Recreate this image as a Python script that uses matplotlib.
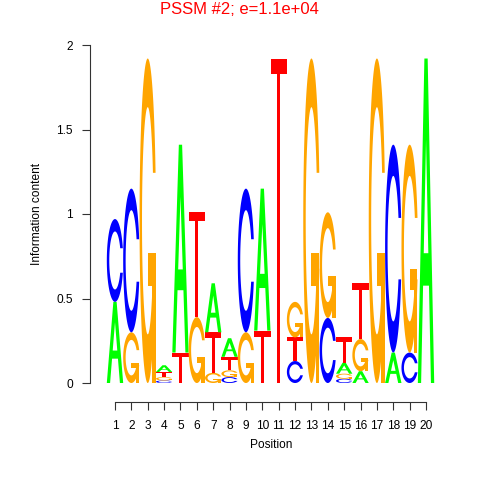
import numpy as np
import matplotlib
matplotlib.use("Agg")
import matplotlib.pyplot as plt
from matplotlib.patches import Polygon

plt.rcParams['font.family'] = ['Liberation Sans', 'DejaVu Sans']

title = "PSSM #2; e=1.1e+04"
positions = list(range(1, 21))
# bits per base at each position
A = [0.48, 0, 0, 0.04, 1.23, 0, 0.29, 0.11, 0, 0.84, 0, 0, 0, 0, 0.065, 0.07, 0, 0.18, 0, 1.92]
C = [0.49, 0.85, 0, 0.015, 0, 0, 0, 0.035, 0.85, 0, 0, 0.13, 0, 0.385, 0.025, 0, 0, 1.23, 0.18, 0]
G = [0, 0.30, 1.92, 0.02, 0, 0.39, 0.06, 0.04, 0.30, 0, 0, 0.21, 1.92, 0.625, 0.03, 0.19, 1.92, 0, 1.23, 0]
T = [0, 0, 0, 0.03, 0.18, 0.62, 0.24, 0.08, 0, 0.31, 1.92, 0.14, 0, 0, 0.15, 0.33, 0, 0, 0, 0]

cols = {'A': '#00FF00', 'C': '#0000FF', 'G': '#FFA500', 'T': '#FF0000'}


def c_shape():
    a1 = np.linspace(0.3 + np.pi / 2, np.pi, 100)
    a2 = np.linspace(np.pi, 1.5 * np.pi, 100)
    xl = np.r_[0.5 + 0.5 * np.sin(a1), 0.5 + 0.5 * np.sin(a2)]
    yl = np.r_[0.5 + 0.5 * np.cos(a1), 0.5 + 0.5 * np.cos(a2)]
    x = np.r_[xl, xl[::-1]]
    y = np.r_[yl, 1 - yl[::-1]]
    ymax = (0.5 + 0.5 * np.cos(a1)).max()
    xi1 = 0.5 + 0.35 * np.sin(a1)
    yi1 = 0.5 + 0.35 * np.cos(a1)
    keep = yi1 <= ymax
    xi1, yi1 = xi1[keep], yi1[keep]
    yi1[0] = ymax
    xi = np.r_[xi1, 0.5 + 0.35 * np.sin(a2)]
    yi = np.r_[yi1, 0.5 + 0.35 * np.cos(a2)]
    x1 = np.r_[xi, xi[::-1]]
    y1 = np.r_[yi, 1 - yi[::-1]]
    return np.c_[np.r_[x, x1[::-1]], np.r_[y, y1[::-1]]]


def letter(ch, h):
    # unit-box polygons (x, y in 0..1) with fill colours
    if ch == 'A':
        outer = [(0, 0), (0.4, 1), (0.6, 1), (1, 0), (0.8, 0), (0.68, 0.3), (0.32, 0.3), (0.2, 0)]
        hole = [(0.36, 0.4), (0.5, 0.75), (0.64, 0.4)]
        return [(np.array(outer), cols['A']), (np.array(hole), 'white')]
    if ch == 'T':
        b = min(0.2, 0.065 / np.sqrt(h))
        pts = [(0, 1), (1, 1), (1, 1 - b), (0.6, 1 - b), (0.6, 0), (0.4, 0), (0.4, 1 - b), (0, 1 - b)]
        return [(np.array(pts), cols['T'])]
    if ch == 'C':
        return [(c_shape(), cols['C'])]
    r1 = 0.5 + 0.5 * np.sin(0.3 + np.pi / 2)
    bar = [(r1, 0.4), (0.5, 0.4), (0.5, 0.3), (r1 - 0.2, 0.3), (r1 - 0.2, 0), (r1, 0)]
    return [(c_shape(), cols['G']), (np.array(bar), cols['G'])]


fig = plt.figure(figsize=(4.8, 4.8), dpi=100)
ax = fig.add_axes([90 / 480, 97 / 480, 350 / 480, 338 / 480])
ax.set_xlim(1 - 25 / 16.37, 1 + 325 / 16.37)
ax.set_ylim(0, 2)

for i, p in enumerate(positions):
    stack = sorted([('A', A[i]), ('C', C[i]), ('G', G[i]), ('T', T[i])], key=lambda s: s[1])
    base = 0
    for ch, h in stack:
        if h <= 0:
            continue
        for pts, fc in letter(ch, h):
            xy = np.c_[p - 0.5 + pts[:, 0], base + h * pts[:, 1]]
            ax.add_patch(Polygon(xy, closed=True, facecolor=fc, edgecolor='none'))
        base += h

for s in ['top', 'right']:
    ax.spines[s].set_visible(False)
ax.spines['left'].set_bounds(0, 2)
ax.spines['bottom'].set_bounds(1, 20)
ax.spines['bottom'].set_position(('outward', 13.7))
for s in ['left', 'bottom']:
    ax.spines[s].set_linewidth(0.8)
    ax.spines[s].set_color('#333333')

ax.set_xticks(positions)
ax.set_xticklabels([str(p) for p in positions])
ax.set_yticks([0, 0.5, 1, 1.5, 2])
ax.set_yticklabels(['0', '0.5', '1', '1.5', '2'])
ax.tick_params(axis='both', labelsize=8.6, length=5.5, width=0.8, color='#333333')
ax.tick_params(axis='x', pad=7.5)
ax.tick_params(axis='y', pad=7)

fig.text(239 / 480, 1 - 9 / 480, title, color='red', fontsize=12, ha='center', va='center')
fig.text(37 / 480, 1 - 214 / 480, 'Information content', rotation=90, fontsize=8.6, ha='center', va='center')
fig.text(271 / 480, 1 - 445 / 480, 'Position', fontsize=8.6, ha='center', va='center')

fig.savefig('out.png', dpi=100)
